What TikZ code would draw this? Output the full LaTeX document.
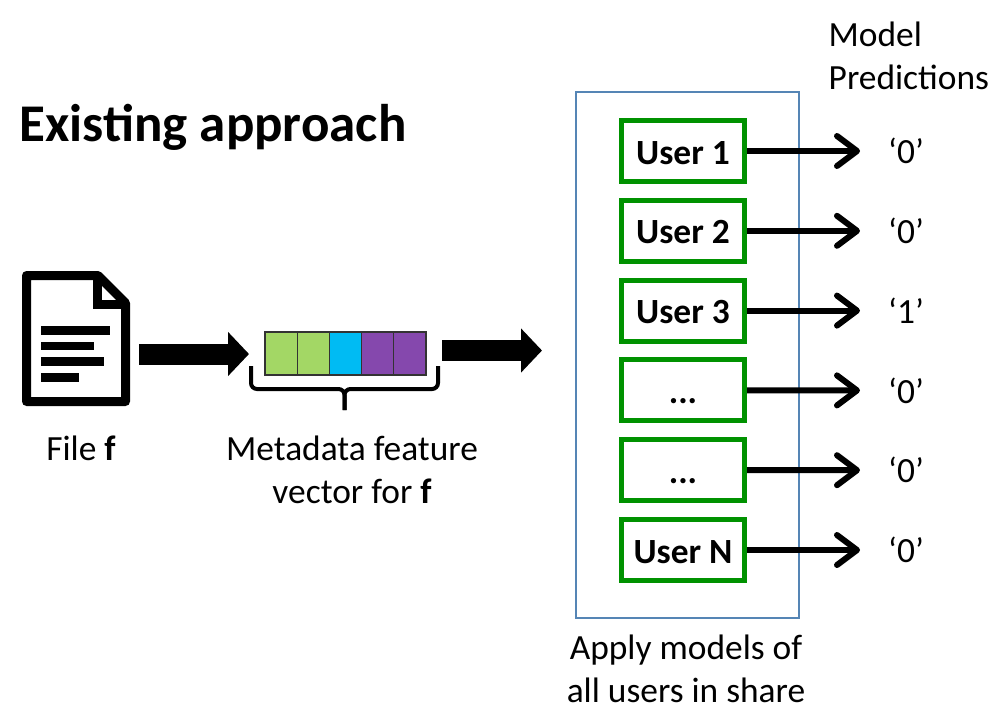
\documentclass[tikz,border=0pt]{standalone}
\usepackage{fontspec}
\setmainfont{Carlito}
\usetikzlibrary{positioning,arrows.meta}
\definecolor{cellgreen}{HTML}{A3D765}
\definecolor{cellblue}{HTML}{00BBF3}
\definecolor{cellpurple}{HTML}{8548AD}
\definecolor{boxgreen}{HTML}{009200}
\definecolor{boxblue}{HTML}{5585B5}
\tikzset{
  x=1pt, y=-1pt,
  label text/.style={font=\fontsize{35.4}{42.3}\selectfont, align=center, inner sep=0pt},
  userbox/.style={draw=boxgreen, line width=5pt, minimum width=123pt, minimum height=61pt,
    inner sep=0pt, text height=26pt, text depth=0pt, font=\fontsize{35.4}{42}\selectfont\bfseries},
  cell/.style={draw=black!80, line width=1.2pt, minimum width=32.2pt, minimum height=43pt,
    inner sep=0pt, outer sep=0pt},
  predarrow/.style={line width=6pt, -{Straight Barb[length=20pt,width=30pt,round]}},
  fatarrow/.style={line width=21pt, -{Triangle[length=21pt,width=43pt]}},
  predtext/.style={font=\fontsize{35.4}{42}\selectfont, inner xsep=28pt, inner ysep=0pt, anchor=west},
}
\begin{document}
\begin{tikzpicture}
    \useasboundingbox (0,0) rectangle (1000,724);
    \node[font=\fontsize{53}{60}\selectfont\bfseries, inner sep=0pt] (title) at (213,127.5) {Existing approach};

    % file icon
    \draw[line width=9pt, line join=round] (26.5,275.5) -- (98,275.5) -- (125.5,303) -- (125.5,401.5) -- (26.5,401.5) -- cycle;
    \draw[line width=9pt] (97.5,275.5) -- (97.5,304) -- (125.5,304);
    \fill (41,326) rectangle (110,335);
    \fill (41,342) rectangle (94,350);
    \fill (41,357) rectangle (104,366);
    \fill (41,373) rectangle (79,382);
    \node[label text, anchor=base] (filelabel) at (81,460) {File \textbf{f}};

    % feature vector
    \node[cell, fill=cellgreen] (cell1) at (281.1,353.5) {};
    \node[cell, fill=cellgreen, right=0pt of cell1] (cell2) {};
    \node[cell, fill=cellblue, right=0pt of cell2] (cell3) {};
    \node[cell, fill=cellpurple, right=0pt of cell3] (cell4) {};
    \node[cell, fill=cellpurple, right=0pt of cell4] (cell5) {};
    \draw[line width=4pt, rounded corners=6pt] (251,366) -- (251,389) -- (344.5,389) -- (344.5,410);
    \draw[line width=4pt, rounded corners=6pt] (438,366) -- (438,389) -- (344.5,389) -- (344.5,410);
    \node[label text, anchor=north] (vectorlabel) at (352,436) {Metadata feature\\vector for \textbf{f}};

    \coordinate (filefree) at (139,354);
    \coordinate (vectorfree) at (442,350.5);
    \coordinate (boxfree) at (542,350.5);
    \draw[fatarrow, shorten >=16pt] (filefree) -- (cell1.west |- filefree);
    \draw[fatarrow] (vectorfree) -- (boxfree);

    % models
    \node[draw=boxblue, line width=2pt, minimum width=223pt, minimum height=526pt, inner sep=0pt] (share) at (687.5,355) {};
    \node[label text, below=16pt of share, xshift=-1.5pt] (sharelabel) {Apply models of\\all users in share};

    \node[userbox] (user1) at (683,151) {User 1};
    \node[userbox, below=13.8pt of user1] (user2) {User 2};
    \node[userbox, below=13.8pt of user2] (user3) {User 3};
    \node[userbox, below=13.8pt of user3] (user4) {...};
    \node[userbox, below=13.8pt of user4] (user5) {...};
    \node[userbox, below=13.8pt of user5] (user6) {User N};

    \node[predtext] (pred1) at (860,151) {‘0’};
    \node[predtext] (pred2) at (860,230.8) {‘0’};
    \node[predtext] (pred3) at (860,310.6) {‘1’};
    \node[predtext] (pred4) at (860,390.4) {‘0’};
    \node[predtext] (pred5) at (860,470.2) {‘0’};
    \node[predtext] (pred6) at (860,550) {‘0’};
    \draw[predarrow] (user1) -- (pred1);
    \draw[predarrow] (user2) -- (pred2);
    \draw[predarrow] (user3) -- (pred3);
    \draw[predarrow] (user4) -- (pred4);
    \draw[predarrow] (user5) -- (pred5);
    \draw[predarrow] (user6) -- (pred6);

    \node[label text, align=left, anchor=north west] (predlabel) at (828.5,22) {Model\\Predictions};
\end{tikzpicture}
\end{document}
